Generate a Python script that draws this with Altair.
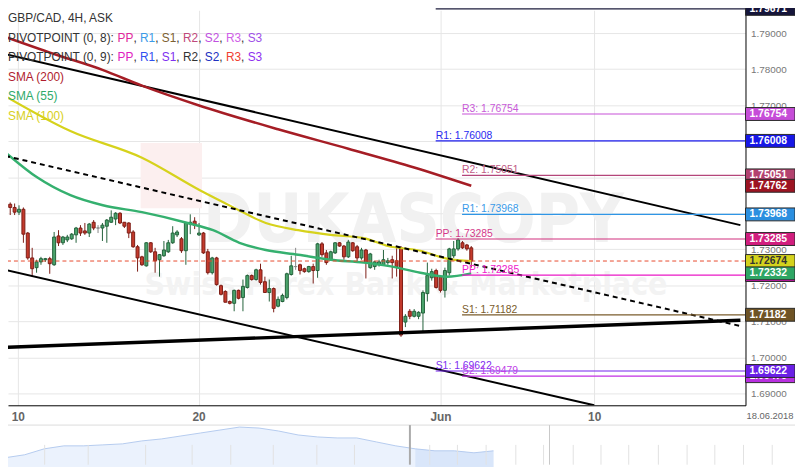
import altair as alt
import pandas as pd

FONT = "Liberation Sans"

# ---------------- values ----------------
opens = [1.7524,1.7425,1.7416,1.7403,1.7411,1.7345,1.7276,1.7249,1.7265,1.7271,
 1.7274,1.7257,1.7337,1.7318,1.7326,1.7329,1.7340,1.7359,1.7351,1.7345,
 1.7375,1.7359,1.7359,1.7364,1.7375,1.7384,1.7400,1.7375,1.7373,1.7348,
 1.7307,1.7279,1.7254,1.7318,1.7293,1.7271,1.7282,1.7293,1.7318,1.7340,
 1.7329,1.7296,1.7370,1.7378,1.7340,1.7345,1.7293,1.7235,1.7276,1.7199,
 1.7183,1.7155,1.7150,1.7186,1.7166,1.7194,1.7227,1.7216,1.7243,1.7210,
 1.7180,1.7191,1.7142,1.7155,1.7166,1.7230,1.7252,1.7257,1.7246,1.7238,
 1.7252,1.7241,1.7315,1.7290,1.7271,1.7290,1.7318,1.7309,1.7279,1.7318,
 1.7307,1.7276,1.7298,1.7249,1.7252,1.7257,1.7257,1.7263,1.7271,1.7268,
 1.7304,1.7098,1.7128,1.7114,1.7114,1.7123,1.7177,1.7221,1.7241,1.7224,
 1.7186,1.7235,1.7282,1.7301,1.7318,1.7312,1.7304]
highs = [1.7532,1.7430,1.7427,1.7422,1.7416,1.7348,1.7304,1.7271,1.7279,1.7276,
 1.7279,1.7348,1.7353,1.7337,1.7340,1.7345,1.7362,1.7367,1.7373,1.7373,
 1.7381,1.7367,1.7373,1.7384,1.7408,1.7403,1.7403,1.7375,1.7375,1.7353,
 1.7312,1.7282,1.7320,1.7320,1.7304,1.7287,1.7323,1.7326,1.7364,1.7353,
 1.7334,1.7375,1.7397,1.7389,1.7373,1.7348,1.7301,1.7279,1.7279,1.7202,
 1.7186,1.7158,1.7188,1.7188,1.7216,1.7230,1.7230,1.7246,1.7260,1.7224,
 1.7216,1.7194,1.7169,1.7177,1.7235,1.7282,1.7304,1.7260,1.7249,1.7254,
 1.7260,1.7318,1.7320,1.7298,1.7296,1.7320,1.7320,1.7312,1.7326,1.7320,
 1.7312,1.7304,1.7301,1.7290,1.7268,1.7271,1.7298,1.7276,1.7282,1.7304,
 1.7309,1.7120,1.7134,1.7134,1.7128,1.7186,1.7263,1.7246,1.7246,1.7227,
 1.7249,1.7304,1.7323,1.7331,1.7323,1.7315,1.7309]
lows = [1.7416,1.7395,1.7395,1.7395,1.7318,1.7271,1.7224,1.7235,1.7257,1.7265,
 1.7232,1.7254,1.7309,1.7312,1.7320,1.7326,1.7318,1.7337,1.7340,1.7334,
 1.7353,1.7345,1.7323,1.7318,1.7373,1.7367,1.7370,1.7359,1.7331,1.7304,
 1.7238,1.7254,1.7252,1.7290,1.7235,1.7224,1.7279,1.7290,1.7315,1.7334,
 1.7290,1.7257,1.7342,1.7356,1.7337,1.7287,1.7230,1.7230,1.7199,1.7172,
 1.7153,1.7147,1.7128,1.7161,1.7128,1.7191,1.7213,1.7213,1.7202,1.7180,
 1.7155,1.7125,1.7139,1.7153,1.7161,1.7227,1.7243,1.7230,1.7235,1.7235,
 1.7205,1.7221,1.7279,1.7257,1.7268,1.7287,1.7307,1.7271,1.7276,1.7293,
 1.7265,1.7271,1.7219,1.7246,1.7243,1.7252,1.7254,1.7257,1.7219,1.7224,
 1.7057,1.7084,1.7106,1.7111,1.7106,1.7068,1.7155,1.7213,1.7191,1.7180,
 1.7166,1.7227,1.7276,1.7296,1.7301,1.7296,1.7249]
closes = [1.7427,1.7416,1.7403,1.7411,1.7342,1.7276,1.7246,1.7265,1.7274,1.7274,
 1.7260,1.7334,1.7318,1.7334,1.7334,1.7342,1.7359,1.7345,1.7345,1.7370,
 1.7359,1.7359,1.7367,1.7381,1.7389,1.7400,1.7373,1.7364,1.7345,1.7307,
 1.7276,1.7257,1.7318,1.7293,1.7268,1.7285,1.7298,1.7318,1.7345,1.7348,
 1.7296,1.7373,1.7375,1.7367,1.7345,1.7290,1.7235,1.7276,1.7202,1.7175,
 1.7153,1.7150,1.7186,1.7164,1.7197,1.7227,1.7216,1.7243,1.7208,1.7180,
 1.7191,1.7136,1.7161,1.7172,1.7232,1.7254,1.7252,1.7241,1.7238,1.7252,
 1.7241,1.7315,1.7285,1.7263,1.7293,1.7318,1.7309,1.7279,1.7320,1.7296,
 1.7276,1.7298,1.7263,1.7287,1.7265,1.7265,1.7271,1.7268,1.7263,1.7252,
 1.7062,1.7114,1.7114,1.7128,1.7125,1.7180,1.7227,1.7238,1.7194,1.7186,
 1.7241,1.7301,1.7301,1.7326,1.7304,1.7301,1.72674]

sma200_i = [0, 11, 22, 31, 44, 62, 78, 93, 106]
sma200_v = [1.7889, 1.7842, 1.7798, 1.7754, 1.7699, 1.7633, 1.7579, 1.7527, 1.74762]
sma100_i = [0, 14.7, 31, 44.3, 51.7, 59.2, 66.6, 73.9, 81.5, 87.0, 94.4, 100.4, 106]
sma100_v = [1.7724, 1.7628, 1.7554, 1.7463, 1.7417, 1.7373, 1.7353, 1.7340, 1.7331,
            1.7309, 1.7296, 1.7274, 1.72674]
sma55_i = [0, 7.2, 14.7, 22.1, 31, 41.4, 47.2, 53.2, 59.2, 66.6, 73.9, 81.5, 87.0,
           94.4, 100.4, 106]
sma55_v = [1.7568, 1.7499, 1.7450, 1.7422, 1.7403, 1.7373, 1.7353, 1.7318, 1.7298,
           1.7285, 1.7271, 1.7263, 1.7254, 1.7235, 1.7224, 1.72332]

upper_i, upper_v = [-0.16, 167.3], [1.7842, 1.7367]
mid_i, mid_v = [-0.16, 167.3], [1.7559, 1.7087]
lower_i, lower_v = [-0.16, 134.0], [1.7243, 1.6867]
support_i, support_v = [-0.16, 167.3], [1.7028, 1.7103]

pivot_names = ["R2", "R3", "R1", "R2", "R1", "PP", "PP", "S1", "S1", "S2"]
pivot_values = [1.79671, 1.76754, 1.76008, 1.75051, 1.73968, 1.73285, 1.72285,
                1.71182, 1.69622, 1.69479]
pivot_start = [97.9, 103.9, 97.9, 103.9, 103.9, 97.9, 103.9, 103.9, 97.9, 103.9]
pivot_colors = ["#1d1d3d", "#c852d8", "#1c1cee", "#b4467a", "#2f96e6", "#d2307f",
                "#ea18c6", "#7a5c2c", "#7422ee", "#c22fe4"]
pivot_label_colors = ["#444444", "#c85ad8", "#2a2af0", "#bf5a85", "#3a9ae8", "#d43a8a",
                      "#ee22cc", "#7a5c2c", "#8030f0", "#c040e8"]

last_price = 1.72674
tag_values = [1.72285, 1.69479, 1.79671, 1.76754, 1.76008, 1.75051, 1.74762, 1.73968,
              1.73285, 1.72674, 1.72332, 1.71182, 1.69622]
tag_colors = ["#e616c3", "#b82fe0", "#15153a", "#c64dd8", "#1717e6", "#b3426f", "#9c1422",
              "#2b8fe0", "#d11e7e", "#d4d21d", "#2ea664", "#6e5325", "#6a1fe6"]
tag_text_colors = ["white"] * 9 + ["#333333"] + ["white"] * 3

x_tick_pos = [2.74, 43.9, 99.0, 134.0]
x_tick_labels = ["10", "20", "Jun", "10"]
y_ticks = [1.69, 1.70, 1.71, 1.72, 1.73, 1.74, 1.75, 1.76, 1.77, 1.78, 1.79]
date_label = "18.06.2018"

nav_v = [1.707, 1.710, 1.716, 1.719, 1.719, 1.720, 1.721, 1.724, 1.726, 1.729, 1.732,
         1.735, 1.738, 1.737, 1.734, 1.730, 1.728, 1.727, 1.727, 1.723, 1.719, 1.716,
         1.714, 1.714, 1.712, 1.714]

legend_lines = [
    [("GBP/CAD, 4H, ASK", "#333333")],
    [("PIVOTPOINT (0, 8): ", "#333333"), ("PP", "#e0269b"), (", ", "#333333"),
     ("R1", "#3b9be8"), (", ", "#333333"), ("S1", "#7d6030"), (", ", "#333333"),
     ("R2", "#c0487a"), (", ", "#333333"), ("S2", "#c050e0"), (", ", "#333333"),
     ("R3", "#d060e8"), (", ", "#333333"), ("S3", "#a050e8")],
    [("PIVOTPOINT (0, 9): ", "#333333"), ("PP", "#e020c0"), (", ", "#333333"),
     ("R1", "#3050f0"), (", ", "#333333"), ("S1", "#8030f0"), (", ", "#333333"),
     ("R2", "#333333"), (", ", "#333333"), ("S2", "#2030c0"), (", ", "#333333"),
     ("R3", "#f04030"), (", ", "#333333"), ("S3", "#9030f0")],
    [("SMA (200)", "#b01c2e")],
    [("SMA (55)", "#2eaa6a")],
    [("SMA (100)", "#d8d020")],
]

# ---------------- layout constants ----------------
W, H = 745, 399
XMIN, XMAX = 1.62, 167.33
YMIN, YMAX = 1.6867, 1.79632
TAG_HALF = 0.00179

xs = alt.Scale(domain=[XMIN, XMAX], nice=False, zero=False)
ys = alt.Scale(domain=[YMIN, YMAX], nice=False, zero=False)

label_expr = ("datum.value < 10 ? '10' : (datum.value < 60 ? '20' : "
              "(datum.value < 120 ? 'Jun' : '10'))")
AX = alt.Axis(values=x_tick_pos, labelExpr=label_expr, title=None, grid=True,
              gridColor="#e6e6e6", domainColor="#000000", tickSize=0,
              labelBaseline="alphabetic", labelPadding=15, labelFontSize=12,
              labelFont=FONT, labelColor="#666666", labelFontWeight="bold",
              labelFlush=False, labelOverlap=False)
AY = alt.Axis(orient="right", values=y_ticks, format=".5f", title=None, grid=True,
              gridColor="#e6e6e6", domainColor="#000000", tickSize=0, labelPadding=5,
              labelFontSize=10, labelColor="#777777", labelFont=FONT, labelAlign="left",
              labelOverlap=False)


def X(f):
    return alt.X(f, scale=xs, axis=AX)


def Y(f):
    return alt.Y(f, scale=ys, axis=AY)


candles = pd.DataFrame({"i": list(range(len(opens))), "o": opens, "h": highs,
                        "l": lows, "c": closes})
col_calc = dict(
    fill="datum.c > datum.o ? '#4aa46c' : (datum.c < datum.o ? '#c43a2c' : '#999999')",
    edge="datum.c > datum.o ? '#23613b' : (datum.c < datum.o ? '#7c1d16' : '#888888')",
)

layers = []

# watermark (behind)
one = pd.DataFrame({"a": [0]})
layers.append(alt.Chart(one).mark_rect(color="#fcefef").encode(
    x=alt.value(134), x2=alt.value(196), y=alt.value(134), y2=alt.value(200)))
layers.append(alt.Chart(one).mark_text(
    align="left", baseline="alphabetic", font="DejaVu Sans Condensed", fontWeight="bold",
    fontSize=68, color="#f1f1f1").encode(
    x=alt.value(197), y=alt.value(234), text=alt.value("DUKASCOPY")))
layers.append(alt.Chart(one).mark_text(
    align="left", baseline="alphabetic", font="DejaVu Sans Condensed", fontWeight="bold",
    fontSize=32, color="#f3f3f3").encode(
    x=alt.value(138), y=alt.value(288), text=alt.value("Swiss Forex Bank & Marketplace")))

# candles
layers.append(alt.Chart(candles).transform_calculate(**col_calc).mark_rule(
    strokeWidth=1, clip=True).encode(
    x=X("i:Q"), y=Y("l:Q"), y2="h:Q", color=alt.Color("edge:N", scale=None)))
layers.append(alt.Chart(candles).transform_calculate(**col_calc).mark_bar(
    size=3, strokeWidth=1, clip=True).encode(
    x=X("i:Q"), y=Y("o:Q"), y2="c:Q",
    fill=alt.Fill("fill:N", scale=None), stroke=alt.Stroke("edge:N", scale=None)))


def line_layer(ix, vals, color, width, dash=None, interp="linear"):
    df = pd.DataFrame({"i": ix, "v": vals})
    kw = dict(color=color, strokeWidth=width, clip=True, interpolate=interp)
    if dash:
        kw["strokeDash"] = dash
    return alt.Chart(df).mark_line(**kw).encode(x=X("i:Q"), y=Y("v:Q"))


layers += [
    line_layer(upper_i, upper_v, "#000000", 2),
    line_layer(lower_i, lower_v, "#000000", 2),
    line_layer(support_i, support_v, "#000000", 3.5),
    line_layer(sma200_i, sma200_v, "#a51d25", 2.5, interp="monotone"),
    line_layer(sma100_i, sma100_v, "#d6d21c", 2.2, interp="monotone"),
    line_layer(sma55_i, sma55_v, "#35b06f", 2.5, interp="monotone"),
    line_layer(mid_i, mid_v, "#000000", 2, dash=[5, 4]),
]

piv = pd.DataFrame({"p": pivot_values, "s": pivot_start,
                    "col": pivot_colors, "lcol": pivot_label_colors})
piv["label"] = [f"{n}: {v:.5f}" for n, v in zip(pivot_names, pivot_values)]
layers.append(alt.Chart(piv).mark_rule(strokeWidth=1.2).encode(
    x=X("s:Q"), x2=alt.value(W), y=Y("p:Q"), color=alt.Color("col:N", scale=None)))
layers.append(alt.Chart(piv).mark_text(
    align="left", baseline="alphabetic", dy=-2, fontSize=10.5, font=FONT).encode(
    x=X("s:Q"), y=Y("p:Q"), text="label:N", color=alt.Color("lcol:N", scale=None)))

layers.append(alt.Chart(pd.DataFrame({"p": [last_price]})).mark_rule(
    color="#e84a2e", strokeWidth=1, strokeDash=[4, 3]).encode(y=Y("p:Q")))

# price tags, each box with its own text so later ones cover earlier ones
for v, bg, fg in zip(tag_values, tag_colors, tag_text_colors):
    tdf = pd.DataFrame({"p": [v], "lo": [v - TAG_HALF], "hi": [v + TAG_HALF],
                        "t": [f"{v:.5f}"]})
    layers.append(alt.Chart(tdf).mark_rect(stroke="#2a2a2a", strokeWidth=1, fill=bg).encode(
        x=alt.value(W), x2=alt.value(W + 50), y=Y("hi:Q"), y2="lo:Q"))
    layers.append(alt.Chart(tdf).mark_text(
        align="left", baseline="middle", fontWeight="bold", fontSize=10.5, font=FONT,
        color=fg).encode(x=alt.value(W + 4), y=Y("p:Q"), text="t:N"))

# legend text in the top-left corner
AW = {" ": 278, "(": 333, ")": 333, ",": 278, ":": 278, "/": 278, ".": 278,
      "A": 667, "B": 667, "C": 722, "D": 722, "G": 778, "H": 722, "I": 278, "K": 667,
      "M": 833, "N": 722, "O": 778, "P": 667, "R": 722, "S": 667, "T": 611, "V": 667}


def tw(s, size=12):
    return sum(AW.get(ch, 556) for ch in s) * size / 1000


legend_y = [12, 32, 51.5, 71, 91, 110.5]
for r, segs in enumerate(legend_lines):
    x = 0.0
    for txt, col in segs:
        layers.append(alt.Chart(one).mark_text(
            align="left", baseline="alphabetic", font=FONT, fontSize=12, color=col).encode(
            x=alt.value(x), y=alt.value(legend_y[r]), text=alt.value(txt)))
        x += tw(txt)

layers.append(alt.Chart(one).mark_text(
    align="left", baseline="alphabetic", font=FONT, fontSize=9.5, color="#666666").encode(
    x=alt.value(W + 1), y=alt.value(413), text=alt.value(date_label)))

# ---------------- navigator strip under the axis ----------------
nav_df = pd.DataFrame({"k": list(range(len(nav_v))), "v": nav_v})
nav_calc = dict(
    i=f"{XMIN} + (datum.k * 20 - 8) / {W / (XMAX - XMIN)}",
    ny="1.67022 + (datum.v - 1.70) * 0.2747",
)
layers.append(alt.Chart(nav_df).transform_calculate(**nav_calc).mark_area(
    color="#ebf2fd").encode(x=X("i:Q"), y=Y("ny:Q"), y2=alt.value(459)))
layers.append(alt.Chart(nav_df).transform_filter("datum.k >= 20.7").transform_calculate(
    **nav_calc).mark_area(color="#d9e6fa").encode(
    x=X("i:Q"), y=Y("ny:Q"), y2=alt.value(459)))
layers.append(alt.Chart(nav_df).transform_calculate(**nav_calc).mark_line(
    color="#b5cbef", strokeWidth=1).encode(x=X("i:Q"), y=Y("ny:Q")))

nav_grid_px = [2.6, 45, 89, 147, 194, 233, 276, 320, 358, 434, 462, 491, 521, 549, 579,
               607, 635, 665, 694, 722, 751, 780]
for g in nav_grid_px:
    layers.append(alt.Chart(one).mark_rule(color="#e2e2e2", strokeWidth=1).encode(
        x=alt.value(g - 8), y=alt.value(439), y2=alt.value(459)))
layers.append(alt.Chart(one).mark_rule(color="#dddddd", strokeWidth=1).encode(
    x=alt.value(-8), x2=alt.value(W + 50), y=alt.value(419)))
layers.append(alt.Chart(one).mark_rule(color="#aaaaaa", strokeWidth=2).encode(
    x=alt.value(406), y=alt.value(419), y2=alt.value(459)))
layers.append(alt.Chart(one).mark_rule(color="#c8c8c8", strokeWidth=1).encode(
    x=alt.value(547), y=alt.value(419), y2=alt.value(459)))

chart = alt.layer(*layers).properties(
    width=W, height=H,
    autosize=alt.AutoSizeParams(type="none"),
    padding={"left": 0, "top": 0, "right": 50, "bottom": 60},
).configure_view(stroke=None)

chart.save("out.html", embed_options={"renderer": "svg", "actions": False})
